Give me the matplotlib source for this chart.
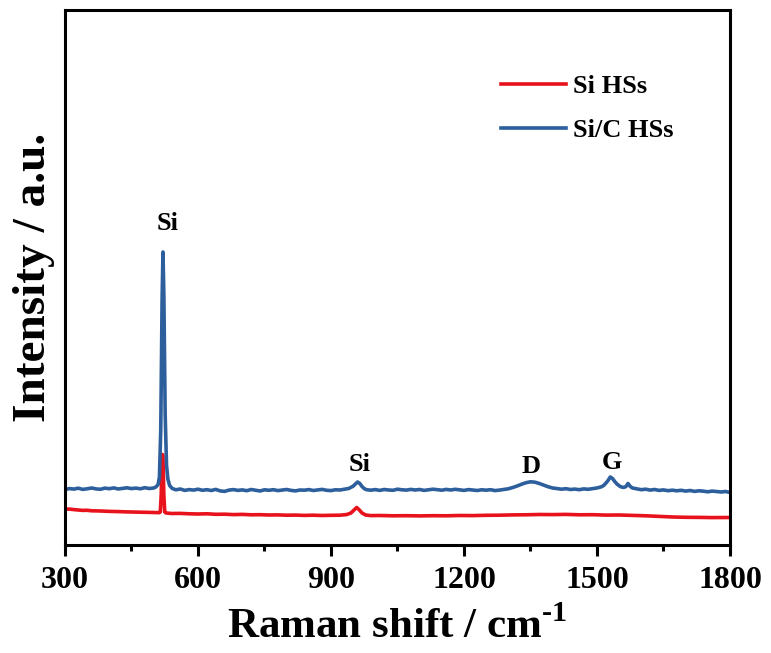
import matplotlib
matplotlib.use("Agg")
import matplotlib.pyplot as plt
from matplotlib.ticker import MultipleLocator

# =========================
# Raman spectra (a.u.)
# =========================
shift_sic = [300, 310, 320, 330, 340, 350, 360, 370, 380, 390, 400, 410,
             420, 430, 440, 450, 460, 470, 480, 490, 500,
             505, 510, 513, 516, 519, 521, 523, 526, 529, 532, 536, 542,
             550, 560, 570, 580, 590, 600, 610, 620, 630, 640, 650, 660,
             670, 680, 690, 700, 710, 720, 730, 740, 750, 760, 770, 780,
             790, 800, 810, 820, 830, 840, 850, 860, 870, 880, 890, 900,
             910, 920, 930, 940, 950, 955, 960, 965, 970, 975, 980, 990,
             1000, 1010, 1020, 1030, 1040, 1050, 1060, 1070, 1080, 1090,
             1100, 1110, 1120, 1130, 1140, 1150, 1160, 1170, 1180, 1190,
             1200, 1210, 1220, 1230, 1240, 1250, 1260, 1270, 1280, 1290,
             1300, 1310, 1320, 1330, 1340, 1350, 1360, 1370, 1380, 1390,
             1400, 1410, 1420, 1430, 1440, 1450, 1460, 1470, 1480, 1490,
             1500, 1510, 1515, 1520, 1525, 1530, 1535, 1540, 1545, 1550,
             1555, 1560, 1565, 1570, 1575, 1580, 1590, 1600, 1610, 1620,
             1630, 1640, 1650, 1660, 1670, 1680, 1690, 1700, 1710, 1720,
             1730, 1740, 1750, 1760, 1770, 1780, 1790, 1800]
int_sic = [55.5, 56.4, 55.9, 56.8, 55.6, 56.2, 57.0, 56.1, 55.7, 56.9, 56.3, 57.1,
           56.0, 56.6, 57.2, 56.4, 56.9, 56.2, 57.3, 56.5, 57.0,
           58.0, 60.5, 68.0, 115.0, 245.0, 293.0, 250.0, 130.0, 80.0, 66.0, 59.5, 56.5,
           55.2, 56.0, 54.6, 55.4, 54.9, 55.8, 54.7, 55.3, 54.5, 55.6, 54.1, 53.6,
           54.9, 55.4, 54.6, 55.1, 54.3, 55.5, 54.8, 54.0, 55.2, 54.7, 55.3, 54.4,
           54.9, 55.5, 54.6, 54.1, 55.0, 54.8, 55.4, 54.5, 55.1, 55.6, 54.7, 54.4,
           55.2, 55.0, 55.8, 56.5, 58.8, 61.0, 63.0, 61.5, 58.5, 56.4, 55.3, 54.8,
           55.4, 54.6, 55.5, 55.0, 54.7, 55.8, 55.2, 54.9, 55.6, 55.0,
           55.5, 54.6, 55.2, 55.8, 55.3, 54.8, 55.6, 55.0, 55.7, 55.1,
           54.6, 55.4, 55.0, 54.5, 55.2, 54.8, 55.3, 54.4, 54.9, 55.6,
           56.2, 57.5, 59.0, 60.8, 62.3, 63.2, 62.8, 61.5, 59.8, 58.2,
           57.0, 56.4, 55.8, 56.3, 55.5, 55.9, 55.3, 56.1, 55.7, 56.4,
           57.0, 58.2, 59.5, 61.8, 64.5, 68.0, 66.5, 63.5, 61.0, 59.2,
           58.0, 57.6, 58.3, 61.5, 58.6, 57.0, 56.2, 55.3, 55.8, 54.9,
           55.5, 54.6, 55.1, 54.3, 54.8, 54.2, 54.7, 53.9, 54.5, 53.6,
           54.2, 53.8, 53.2, 53.9, 53.4, 53.0, 53.5, 52.5]

shift_si = [300, 310, 320, 330, 340, 350, 360, 380, 400, 420, 440, 460,
            480, 500, 512, 515, 517, 519, 520, 521, 523, 525, 528, 540,
            560, 580, 600, 620, 640, 660, 680, 700, 720, 740, 760, 780,
            800, 820, 840, 860, 880, 900, 920, 935, 945, 952, 958, 964,
            970, 978, 990, 1010, 1040, 1070, 1100, 1130, 1160, 1190, 1220,
            1250, 1280, 1310, 1340, 1370, 1400, 1430, 1460, 1490, 1520,
            1550, 1580, 1610, 1640, 1670, 1700, 1730, 1760, 1800]
int_si = [35.8, 35.9, 35.4, 35.0, 34.6, 34.7, 34.2, 34.0, 33.6, 33.4, 33.1, 32.9,
          32.7, 32.5, 32.3, 33.0, 50.0, 88.0, 90.5, 88.0, 50.0, 33.0, 32.0, 31.5,
          31.6, 31.2, 31.0, 31.2, 30.7, 30.8, 30.4, 30.6, 30.2, 30.3, 30.0, 30.1,
          29.8, 29.9, 29.6, 29.8, 29.5, 29.7, 29.8, 30.4, 32.0, 35.0, 37.5, 35.0,
          32.0, 30.0, 29.4, 29.5, 29.2, 29.3, 29.1, 29.3, 29.2, 29.5, 29.4,
          29.7, 29.8, 30.1, 30.2, 30.5, 30.4, 30.6, 30.2, 30.3, 29.9,
          30.0, 29.6, 29.2, 28.6, 28.0, 27.7, 27.6, 27.4, 27.5]

# peak labels (baseline positions)
peak_names = ["Si", "Si", "D", "G"]
peak_x = [532, 964, 1351, 1534]
peak_y = [315, 74, 72, 76]

RED = "#E8121C"
BLUE = "#2D5F9C"

plt.rcParams["font.family"] = ["Liberation Serif", "DejaVu Serif"]
plt.rcParams["font.weight"] = "bold"
plt.rcParams["mathtext.fontset"] = "custom"
plt.rcParams["mathtext.rm"] = "Liberation Serif:bold"
plt.rcParams["mathtext.bf"] = "Liberation Serif:bold"

fig = plt.figure(figsize=(7.71, 6.53), dpi=100)
ax = fig.add_axes([0.0843, 0.1654, 0.8625, 0.8193])

ax.plot(shift_si, int_si, color=RED, lw=2.6, label="Si HSs")
ax.plot(shift_sic, int_sic, color=BLUE, lw=2.6, label="Si/C HSs")

for name, x, y in zip(peak_names, peak_x, peak_y):
    ax.text(x, y, name, ha="center", va="baseline", fontsize=19, fontweight="bold")

ax.set_xlim(300, 1800)
ax.set_ylim(0, 535)
ax.xaxis.set_major_locator(MultipleLocator(300))
ax.xaxis.set_minor_locator(MultipleLocator(150))
ax.set_yticks([])

ax.tick_params(axis="x", which="major", direction="out", length=8, width=2.2,
               labelsize=23, pad=7)
ax.tick_params(axis="x", which="minor", direction="out", length=4.5, width=2.2)
for lab in ax.get_xticklabels():
    lab.set_fontweight("bold")
for sp in ax.spines.values():
    sp.set_linewidth(2.2)

ax.set_xlabel(r"Raman shift / cm$^{\text{-1}}$", fontsize=31, fontweight="bold",
              labelpad=9)
ax.set_ylabel("Intensity / a.u.", fontsize=34, fontweight="bold", labelpad=7)

ax.legend(loc="upper left", bbox_to_anchor=(0.656, 0.879), frameon=False,
          fontsize=19, handlelength=2.46, handletextpad=0.27, labelspacing=0.78,
          borderpad=0, borderaxespad=0)

fig.savefig("out.png", dpi=100)
